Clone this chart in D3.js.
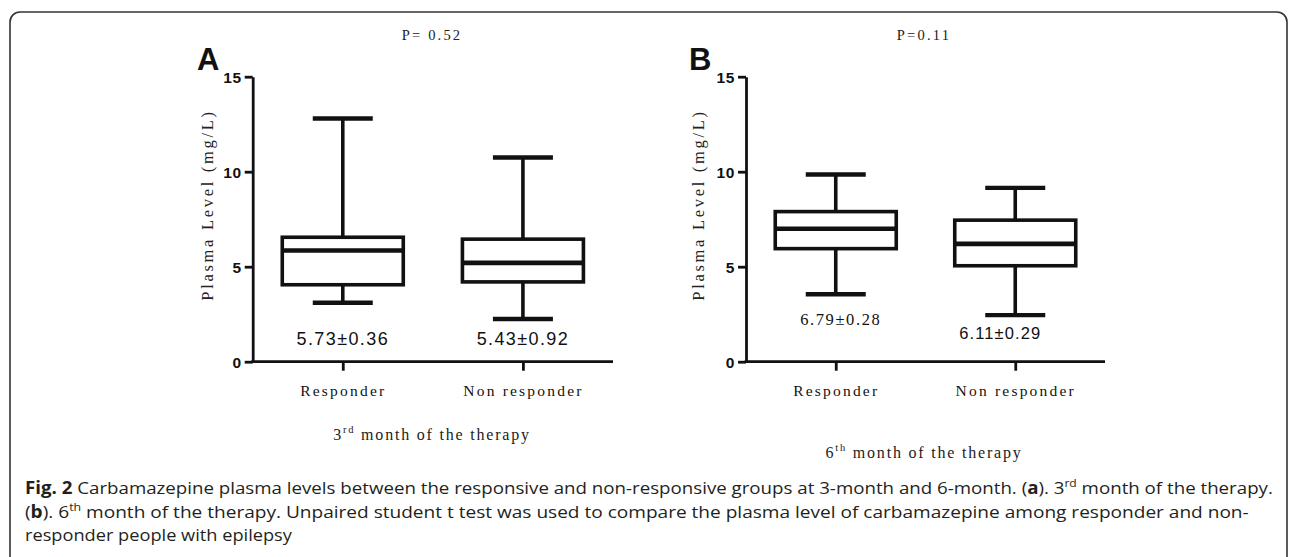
<!DOCTYPE html>
<html>
<head>
<meta charset="utf-8">
<script src="https://cdn.jsdelivr.net/npm/d3@7"></script>
<style>
  html, body { margin: 0; padding: 0; background: #fff; }
  svg { display: block; }
</style>
</head>
<body>
<svg id="chart" width="1290" height="557"></svg>
<script>
// ---------- data ----------
const categories = ["Responder", "Non responder"];
// [min, Q1, median, Q3, max]
const responderA    = [3.1, 4.05, 5.85, 6.55, 12.8];
const nonResponderA = [2.25, 4.2, 5.2, 6.45, 10.75];
const responderB    = [3.55, 5.95, 7.0, 7.9, 9.85];
const nonResponderB = [2.45, 5.05, 6.2, 7.45, 9.15];
const yTicks = [0, 5, 10, 15];
const meanLabelsA = ["5.73±0.36", "5.43±0.92"];
const meanLabelsB = ["6.79±0.28", "6.11±0.29"];
const pValues = ["P= 0.52", "P=0.11"];
const panelLetters = ["A", "B"];
const yTitle = "Plasma Level (mg/L)";

const svg = d3.select("#chart");
const INK = "#111";
const SERIF = "'Liberation Serif', 'DejaVu Serif', serif";
const SANS = "'Liberation Sans', Arial, sans-serif";

// frame
svg.append("rect")
  .attr("x", 10).attr("y", 12).attr("width", 1277).attr("height", 620)
  .attr("rx", 10).attr("ry", 10)
  .attr("fill", "none").attr("stroke", "#333").attr("stroke-width", 1.6);

function drawPanel(opt) {
  const g = svg.append("g");
  const y = d3.scaleLinear().domain([0, 15]).range([361.7, 76.7]);
  const x = d3.scalePoint().domain(categories).range([opt.x0, opt.x1]).padding(0.5);

  // y axis
  const ya = g.append("g").attr("transform", `translate(${opt.x0},0)`)
    .call(d3.axisLeft(y).tickValues(yTicks).tickSize(8).tickPadding(3).tickSizeOuter(0));
  ya.select(".domain").attr("stroke", INK).attr("stroke-width", 2.8);
  ya.selectAll(".tick line").attr("stroke", INK).attr("stroke-width", 2.8);
  ya.selectAll(".tick text").attr("fill", INK)
    .style("font-family", SANS).style("font-weight", "bold").style("font-size", "15.5px")
    .style("letter-spacing", "0.6px")
    .attr("dy", "0.36em");

  // x axis
  const xa = g.append("g").attr("transform", `translate(0,${y(0)})`)
    .call(d3.axisBottom(x).tickSize(9).tickPadding(14).tickSizeOuter(0));
  xa.select(".domain").attr("stroke", INK).attr("stroke-width", 2.8)
    .attr("d", `M${opt.x0 - 1.4},0H${opt.x1}`);
  xa.selectAll(".tick line").attr("stroke", INK).attr("stroke-width", 2.8);
  xa.selectAll(".tick text").attr("fill", INK)
    .style("font-family", SERIF).style("font-size", "15.5px").style("letter-spacing", "2.2px")
    .attr("dy", "0.71em");

  // boxes
  const boxW = 121, capW = 60;
  opt.data.forEach((d, i) => {
    const cx = x(categories[i]);
    const [mn, q1, med, q3, mx] = d;
    g.append("line").attr("x1", cx).attr("x2", cx).attr("y1", y(q3)).attr("y2", y(mx))
      .attr("stroke", INK).attr("stroke-width", 3.6);
    g.append("line").attr("x1", cx).attr("x2", cx).attr("y1", y(q1)).attr("y2", y(mn))
      .attr("stroke", INK).attr("stroke-width", 3.6);
    [mn, mx].forEach(v => {
      g.append("line").attr("x1", cx - capW / 2).attr("x2", cx + capW / 2)
        .attr("y1", y(v)).attr("y2", y(v))
        .attr("stroke", INK).attr("stroke-width", 4.4);
    });
    g.append("rect").attr("x", cx - boxW / 2).attr("y", y(q3))
      .attr("width", boxW).attr("height", y(q1) - y(q3))
      .attr("fill", "#fff").attr("stroke", INK).attr("stroke-width", 3.6);
    g.append("line").attr("x1", cx - boxW / 2).attr("x2", cx + boxW / 2)
      .attr("y1", y(med)).attr("y2", y(med))
      .attr("stroke", INK).attr("stroke-width", 4.6);
  });

  // mean labels
  opt.means.forEach((m, i) => {
    const s = opt.meanStyles[i];
    g.append("text").attr("x", x(categories[i]) + s.dx).attr("y", s.y)
      .attr("text-anchor", "middle").attr("fill", INK)
      .style("font-family", s.family).style("font-size", s.size + "px")
      .style("letter-spacing", s.ls + "px")
      .text(m);
  });

  // y title
  g.append("text")
    .attr("transform", `translate(${opt.yTitleX},205) rotate(-90)`)
    .attr("text-anchor", "middle").attr("fill", "#222")
    .style("font-family", SERIF).style("font-size", "16.5px").style("letter-spacing", "2.7px")
    .text(yTitle);

  // panel letter
  g.append("text").attr("x", opt.letterX).attr("y", 70).attr("fill", INK)
    .style("font-family", SANS).style("font-weight", "bold").style("font-size", "31px")
    .text(opt.letter);

  // p value
  g.append("text").attr("x", opt.pX).attr("y", 40).attr("text-anchor", "middle").attr("fill", "#222")
    .style("font-family", SERIF).style("font-size", "14.5px").style("letter-spacing", "2.2px")
    .text(opt.p);

  // bottom title with superscript
  const t = g.append("text").attr("x", opt.pX).attr("y", opt.titleY).attr("text-anchor", "middle")
    .attr("fill", "#222").style("font-family", SERIF).style("font-size", "16px")
    .style("letter-spacing", "1.8px");
  t.append("tspan").text(opt.titleNum);
  t.append("tspan").attr("dy", -7).style("font-size", "10.5px").text(opt.titleSup);
  t.append("tspan").attr("dy", 7).text(" month of the therapy");
}

drawPanel({
  x0: 252.7, x1: 613, data: [responderA, nonResponderA], means: meanLabelsA,
  meanStyles: [
    { dx: 0, y: 345, family: SANS, size: 18, ls: 1.4 },
    { dx: 0, y: 345, family: SANS, size: 18, ls: 1.4 }
  ],
  yTitleX: 213, letter: panelLetters[0], letterX: 197, p: pValues[0], pX: 432,
  titleY: 440, titleNum: "3", titleSup: "rd"
});

drawPanel({
  x0: 746, x1: 1105, data: [responderB, nonResponderB], means: meanLabelsB,
  meanStyles: [
    { dx: 5, y: 325, family: SERIF, size: 16.5, ls: 1.6 },
    { dx: -15, y: 339, family: SANS, size: 16.5, ls: 1.1 }
  ],
  yTitleX: 704, letter: panelLetters[1], letterX: 689, p: pValues[1], pX: 924,
  titleY: 458, titleNum: "6", titleSup: "th"
});

// ---------- caption ----------
const CAP = "'Open Sans', 'Noto Sans', sans-serif";
const capLines = [
  { y: 494, w: 1249, parts: [
    { t: "Fig. 2", b: true }, { t: " Carbamazepine plasma levels between the responsive and non-responsive groups at 3-month and 6-month. (" },
    { t: "a", b: true }, { t: "). 3" }, { t: "rd", sup: true }, { t: " month of the therapy." } ] },
  { y: 518.5, w: 1225, parts: [
    { t: "(" }, { t: "b", b: true }, { t: "). 6" }, { t: "th", sup: true },
    { t: " month of the therapy. Unpaired student t test was used to compare the plasma level of carbamazepine among responder and non-" } ] },
  { y: 541.5, w: 267, parts: [ { t: "responder people with epilepsy" } ] }
];
capLines.forEach(line => {
  const txt = svg.append("text").attr("x", 25).attr("y", line.y).attr("fill", "#231f20")
    .style("font-family", CAP).style("font-size", "17px");
  let raised = false;
  line.parts.forEach(p => {
    const ts = txt.append("tspan").text(p.t);
    if (p.b) ts.style("font-weight", "bold");
    if (p.sup) { ts.attr("dy", -7).style("font-size", "11px"); raised = true; }
    else if (raised) { ts.attr("dy", 7); raised = false; }
  });
  const bw = txt.node().getComputedTextLength();
  const k = line.w / bw;
  txt.attr("transform", `translate(25,0) scale(${k},1) translate(-25,0)`);
});
</script>
</body>
</html>
